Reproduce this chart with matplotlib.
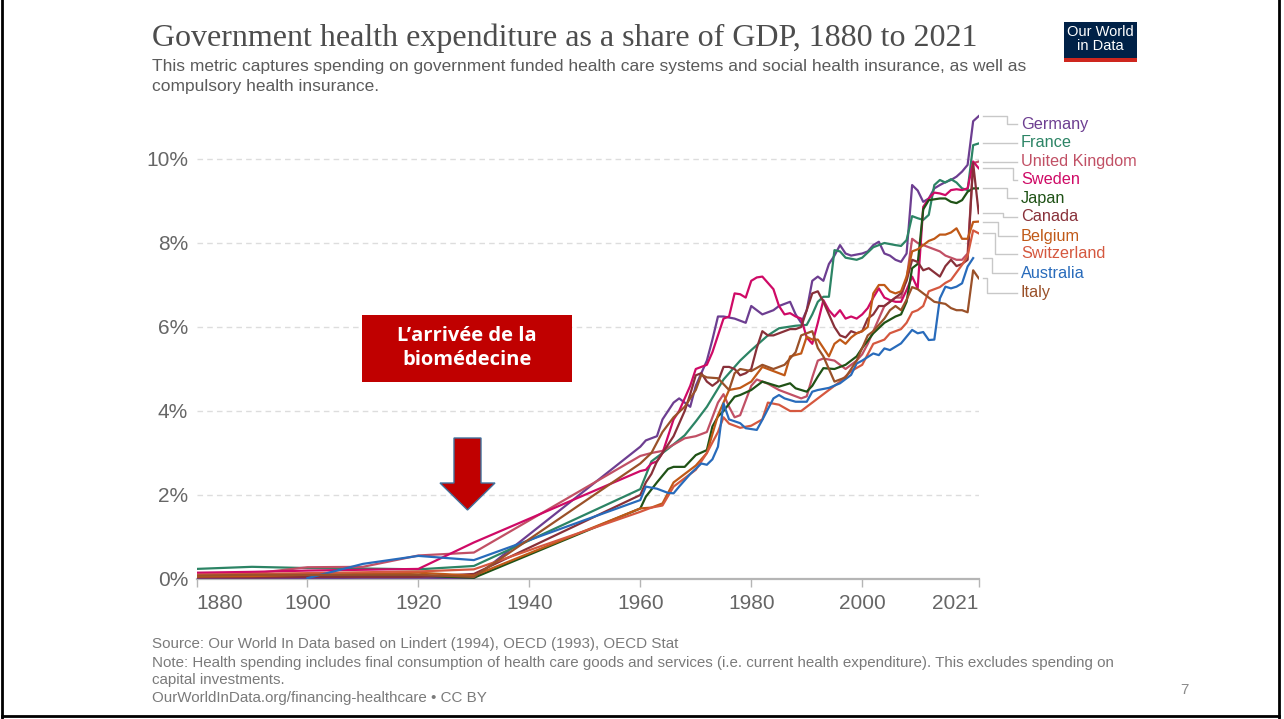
import matplotlib
matplotlib.use("Agg")
import matplotlib.pyplot as plt
from matplotlib.lines import Line2D
from matplotlib.patches import Rectangle, Polygon

plt.rcParams['font.family'] = ['Liberation Sans Narrow', 'Liberation Sans', 'DejaVu Sans']

# ---- data: government health expenditure, % of GDP ----
countries = ["Germany", "France", "United Kingdom", "Sweden", "Japan",
             "Canada", "Belgium", "Switzerland", "Australia", "Italy"]
colors = ["#6D3E91", "#2C8465", "#C15065", "#CF0A66", "#1F5216",
          "#883039", "#C05917", "#D5583F", "#286BBB", "#9A5129"]

early = [1880, 1890, 1900, 1910, 1920, 1930]
annual = list(range(1960, 2022))

de_years = early + [1960, 1961, 1963, 1964, 1966, 1967, 1969, 1970, 1972, 1973, 1974, 1975, 1977, 1979,
                    1980, 1982, 1984, 1985, 1987, 1988, 1989, 1990, 1991, 1992, 1993, 1994, 1995, 1996,
                    1997, 1998, 2000, 2001, 2002, 2003, 2004, 2005, 2006, 2007, 2008, 2009, 2010, 2011,
                    2012, 2013, 2014, 2015, 2016, 2017, 2018, 2019, 2020, 2021]
de_vals = [0.02, 0.02, 0.02, 0.03, 0.03, 0.02,
           3.15, 3.3, 3.4, 3.8, 4.2, 4.3, 4.1, 4.6, 5.2, 5.7, 6.25, 6.25, 6.2, 6.1,
           6.5, 6.3, 6.4, 6.5, 6.6, 6.3, 6.1, 6.4, 7.1, 7.2, 7.1, 7.5, 7.7, 7.95,
           7.75, 7.7, 7.75, 7.8, 7.95, 8.03, 7.75, 7.7, 7.6, 7.55, 7.75, 9.38, 9.25, 8.98,
           9.06, 9.3, 9.38, 9.45, 9.5, 9.58, 9.7, 9.86, 10.9, 11.02]

fr_years = early + [1960, 1962, 1965, 1968, 1970, 1972, 1975, 1978, 1980, 1983, 1985, 1988, 1990, 1991,
                    1992, 1993, 1994, 1995, 1996, 1997, 1999, 2000, 2002, 2003, 2004, 2006, 2007, 2008,
                    2009, 2010, 2011, 2012, 2013, 2014, 2015, 2016, 2017, 2018, 2019, 2020, 2021]
fr_vals = [0.24, 0.29, 0.26, 0.25, 0.23, 0.31,
           2.14, 2.8, 3.1, 3.42, 3.75, 4.1, 4.75, 5.2, 5.45, 5.8, 5.97, 6.03, 6.05, 6.3,
           6.6, 6.72, 6.72, 7.83, 7.8, 7.65, 7.6, 7.65, 7.9, 7.95, 8.0, 7.95, 7.93, 8.07,
           8.64, 8.59, 8.55, 8.67, 9.38, 9.5, 9.44, 9.52, 9.44, 9.3, 9.26, 10.33, 10.37]

uk_years = early + [1960, 1962, 1964, 1966, 1968, 1970, 1972, 1974, 1975, 1976, 1977, 1978, 1980, 1981,
                    1983, 1985, 1987, 1989, 1990, 1991, 1992, 1993, 1995, 1997, 1999, 2000, 2001, 2002,
                    2003, 2004, 2005, 2006, 2007, 2008, 2009, 2010, 2011, 2012, 2013, 2014, 2015, 2016,
                    2017, 2018, 2019, 2020, 2021]
uk_vals = [0.11, 0.13, 0.28, 0.29, 0.56, 0.63,
           2.93, 3.0, 3.05, 3.2, 3.35, 3.4, 3.5, 4.2, 4.4, 4.1, 3.85, 3.9, 4.6, 4.75,
           4.65, 4.5, 4.4, 4.3, 4.35, 4.8, 5.2, 5.25, 5.2, 5.0, 5.2, 5.35, 5.6, 5.9,
           6.2, 6.5, 6.6, 6.7, 6.7, 7.15, 8.1, 8.0, 7.95, 7.9, 7.85, 7.8, 7.7, 7.65,
           7.6, 7.6, 7.75, 9.9, 9.94]

se_years = early + annual
se_vals = [0.15, 0.17, 0.2, 0.22, 0.24, 0.87,
           2.57, 2.6, 2.75, 2.8, 3.0, 3.4, 3.8, 4.0, 4.3, 4.6,
           5.0, 5.05, 5.1, 5.4, 5.8, 6.2, 6.25, 6.8, 6.78, 6.7,
           7.1, 7.18, 7.2, 7.05, 6.9, 6.5, 6.3, 6.33, 6.25, 6.2,
           5.75, 5.6, 6.1, 6.64, 6.4, 6.25, 6.4, 6.2, 6.25, 6.2,
           6.3, 6.45, 6.7, 6.92, 6.7, 6.64, 6.6, 6.6, 6.88, 7.2,
           6.92, 8.86, 9.06, 9.2, 9.18, 9.14, 9.26, 9.28, 9.26, 9.3,
           9.94, 9.78]

jp_years = early + [1960, 1961, 1963, 1965, 1966, 1968, 1970, 1972, 1973, 1974, 1975, 1977, 1978, 1980,
                    1982, 1984, 1985, 1987, 1988, 1990, 1991, 1992, 1993, 1995, 1997, 1999, 2000, 2002,
                    2004, 2006, 2007, 2008, 2009, 2010, 2011, 2012, 2014, 2015, 2016, 2017, 2018, 2019,
                    2020, 2021]
jp_vals = [0.08, 0.08, 0.08, 0.08, 0.08, 0.03,
           1.68, 1.96, 2.3, 2.62, 2.67, 2.67, 2.95, 3.07, 3.63, 3.87, 4.0, 4.34, 4.38, 4.5,
           4.7, 4.62, 4.58, 4.66, 4.54, 4.46, 4.6, 4.82, 5.02, 5.0, 5.1, 5.3, 5.5, 5.85,
           6.1, 6.25, 6.3, 6.6, 7.4, 7.5, 8.8, 9.02, 9.06, 9.06, 8.98, 8.95, 9.02, 9.22,
           9.3, 9.3]

ca_years = early + annual
ca_vals = [0.04, 0.04, 0.05, 0.05, 0.05, 0.12,
           2.0, 2.3, 2.5, 2.8, 3.0, 3.2, 3.4, 3.7, 4.0, 4.4,
           4.85, 4.9, 4.7, 4.6, 4.7, 5.05, 5.05, 5.0, 4.85, 4.9,
           5.0, 5.5, 5.9, 5.8, 5.8, 5.85, 5.9, 5.95, 5.95, 6.0,
           6.4, 6.8, 6.85, 6.6, 6.3, 6.0, 5.8, 5.75, 5.9, 5.85,
           5.9, 6.2, 6.3, 6.5, 6.5, 6.6, 6.7, 6.8, 7.1, 7.6,
           7.55, 7.35, 7.4, 7.3, 7.2, 7.45, 7.6, 7.45, 7.5, 7.6,
           9.9, 8.71]

be_years = early + [1960, 1962, 1964, 1966, 1968, 1970, 1972, 1974, 1975, 1976, 1978, 1980, 1982, 1984,
                    1986, 1987, 1989, 1990, 1991, 1992, 1993, 1994, 1995, 1996, 1997, 1998, 1999, 2000,
                    2001, 2002, 2003, 2004, 2005, 2006, 2007, 2008, 2009, 2010, 2011, 2012, 2013, 2014,
                    2015, 2016, 2017, 2018, 2019, 2020, 2021]
be_vals = [0.06, 0.07, 0.1, 0.12, 0.15, 0.08,
           1.68, 1.7, 1.8, 2.3, 2.5, 2.7, 3.0, 3.9, 4.2, 4.5, 4.55, 4.7, 5.05, 4.95,
           4.85, 5.3, 5.37, 5.77, 5.7, 5.7, 5.5, 5.3, 5.6, 5.7, 5.6, 5.75, 5.85, 5.9,
           6.0, 6.8, 7.0, 7.0, 6.85, 6.8, 6.85, 7.2, 7.8, 7.85, 7.95, 8.05, 8.1, 8.2,
           8.2, 8.25, 8.35, 8.1, 8.1, 8.5, 8.51]

ch_years = early + [1960, 1962, 1964, 1966, 1968, 1970, 1972, 1974, 1975, 1976, 1978, 1980, 1982, 1983,
                    1985, 1987, 1989, 1990, 1992, 1994, 1996, 1998, 2000, 2002, 2004, 2005, 2006, 2007,
                    2008, 2009, 2010, 2011, 2012, 2013, 2014, 2015, 2016, 2017, 2018, 2019, 2020, 2021]
ch_vals = [0.1, 0.12, 0.14, 0.16, 0.18, 0.23,
           1.6, 1.7, 1.75, 2.2, 2.4, 2.6, 3.0, 3.5, 3.85, 3.7, 3.6, 3.65, 3.8, 4.2,
           4.15, 4.0, 4.0, 4.1, 4.3, 4.5, 4.7, 4.95, 5.1, 5.6, 5.7, 5.85, 5.9, 5.95,
           6.1, 6.35, 6.4, 6.5, 6.85, 6.9, 6.95, 7.05, 7.12, 7.3, 7.48, 7.7, 8.3, 8.23]

au_years = [1900, 1910, 1920, 1930,
            1960, 1961, 1963, 1965, 1966, 1967, 1969, 1971, 1972, 1973, 1974, 1975, 1976, 1978,
            1979, 1981, 1982, 1984, 1985, 1986, 1988, 1990, 1991, 1992, 1994, 1996, 1998, 1999,
            2000, 2002, 2003, 2004, 2005, 2007, 2008, 2009, 2010, 2011, 2012, 2013, 2014, 2015,
            2016, 2017, 2018, 2019, 2020]
au_vals = [0.02, 0.36, 0.55, 0.45,
           1.88, 2.2, 2.15, 2.05, 2.04, 2.2, 2.5, 2.75, 2.72, 2.85, 3.15, 4.18, 3.8, 3.71,
           3.59, 3.55, 3.79, 4.3, 4.38, 4.3, 4.22, 4.22, 4.46, 4.5, 4.55, 4.66, 4.86, 5.13,
           5.2, 5.37, 5.33, 5.49, 5.45, 5.61, 5.77, 5.93, 5.85, 5.88, 5.69, 5.7, 6.68, 6.96,
           6.92, 6.96, 7.04, 7.44, 7.64]

it_years = early + [1960, 1962, 1964, 1966, 1968, 1970, 1971, 1972, 1974, 1976, 1977, 1978, 1980, 1982,
                    1984, 1986, 1988, 1989, 1990, 1991, 1992, 1993, 1994, 1995, 1997, 1999, 2000, 2001,
                    2002, 2004, 2005, 2006, 2007, 2008, 2009, 2010, 2012, 2013, 2015, 2016, 2017, 2018,
                    2019, 2020, 2021]
it_vals = [0.08, 0.1, 0.1, 0.1, 0.1, 0.05,
           2.75, 3.0, 3.5, 3.85, 4.1, 4.5, 4.86, 4.8, 4.78, 4.5, 4.9, 5.0, 4.95, 5.1,
           5.0, 5.1, 5.4, 5.8, 5.85, 5.9, 5.5, 5.3, 5.0, 4.7, 4.8, 5.2, 5.5, 5.8,
           5.9, 6.2, 6.4, 6.5, 6.4, 6.65, 6.95, 6.9, 6.7, 6.6, 6.55, 6.45, 6.4, 6.4,
           6.35, 7.35, 7.16]

series_years = [de_years, fr_years, uk_years, se_years, jp_years,
                ca_years, be_years, ch_years, au_years, it_years]
series_vals = [de_vals, fr_vals, uk_vals, se_vals, jp_vals,
               ca_vals, be_vals, ch_vals, au_vals, it_vals]

x_ticks = [1880, 1900, 1920, 1940, 1960, 1980, 2000, 2021]
y_ticks = [0, 2, 4, 6, 8, 10]

# ---- figure ----
W, H = 1284, 719
fig = plt.figure(figsize=(W / 100, H / 100), dpi=100)
fig.patch.set_facecolor("white")


def fx(px):
    return px / W


def fy(py):
    return 1 - py / H


ax = fig.add_axes([fx(196.5), fy(579), (978.7 - 196.5) / W, 11.1 * 42 / H])
ax.set_xlim(1880, 2021)
ax.set_ylim(0, 11.1)

for yrs, vals, col in zip(series_years, series_vals, colors):
    ax.plot(yrs, vals, color=col, lw=1.6, solid_joinstyle="round", zorder=3)

for s in ["top", "right", "left"]:
    ax.spines[s].set_visible(False)
ax.spines["bottom"].set_color("#b5b5b5")
ax.spines["bottom"].set_linewidth(1.6)

ax.set_yticks(y_ticks)
ax.set_yticklabels([f"{v}%" for v in y_ticks])
ax.set_xticks(x_ticks)
ax.set_xticklabels([str(v) for v in x_ticks])
ax.tick_params(axis="y", length=0, pad=6, labelsize=15, labelcolor="#666666")
ax.tick_params(axis="x", length=6, width=1, color="#b5b5b5", pad=5, labelsize=15, labelcolor="#666666")
xl = ax.get_xticklabels()
xl[0].set_ha("left")
xl[-1].set_ha("right")

for v in y_ticks[1:]:
    ax.axhline(v, color="#dddddd", lw=1, dashes=(4, 3), zorder=1)

# ---- titles ----
title = fig.text(fx(152), fy(38), "Government health expenditure as a share of GDP, 1880 to 2021",
                 family=["Liberation Serif", "DejaVu Serif"], fontsize=24, color="#4d4d4d", va="center")
sub1 = fig.text(fx(152), fy(66), "This metric captures spending on government funded health care systems "
                "and social health insurance, as well as", fontsize=13, color="#5b5b5b", va="center")
sub2 = fig.text(fx(152), fy(87), "compulsory health insurance.", fontsize=13, color="#5b5b5b", va="center")

foot1 = fig.text(fx(152), fy(644), "Source: Our World In Data based on Lindert (1994), OECD (1993), OECD Stat",
                 fontsize=11, color="#7a7a7a", va="center")
foot2 = fig.text(fx(152), fy(663), "Note: Health spending includes final consumption of health care goods and "
                 "services (i.e. current health expenditure). This excludes spending on",
                 fontsize=11, color="#7a7a7a", va="center")
foot3 = fig.text(fx(152), fy(680), "capital investments.", fontsize=11, color="#7a7a7a", va="center")
foot4 = fig.text(fx(152), fy(698), "OurWorldInData.org/financing-healthcare • CC BY",
                 fontsize=11, color="#7a7a7a", va="center")

fig.canvas.draw()
r = fig.canvas.get_renderer()


def fit(t, target, others=()):
    w = t.get_window_extent(r).width
    s = t.get_fontsize() * target / w
    t.set_fontsize(s)
    for o in others:
        o.set_fontsize(s)


fit(title, 828)
fit(sub1, 867, [sub2])
fit(foot2, 964, [foot1, foot3, foot4])

fig.text(fx(1184), fy(690), "7", fontsize=11, color="#8a8a8a", va="center", ha="center")

# ---- logo ----
fig.add_artist(Rectangle((fx(1064), fy(62)), 73 / W, 40 / H, transform=fig.transFigure,
                         facecolor="#002147", edgecolor="none"))
fig.add_artist(Rectangle((fx(1064), fy(62)), 73 / W, 4 / H, transform=fig.transFigure,
                         facecolor="#CE261E", edgecolor="none"))
fig.text(fx(1100.5), fy(39), "Our World\nin Data", color="white", fontsize=10.5,
         ha="center", va="center", linespacing=0.95)

# ---- line labels with leader lines ----
label_y = [124, 142.7, 161.7, 180, 198.3, 216.7, 236, 254, 273.3, 292.7]
elbow_x = [1007, 1010, 1013, 1013, 1007, 1003, 998, 995, 992, 987]
for name, col, yrs, vals, ly, ex in zip(countries, colors, series_years, series_vals, label_y, elbow_x):
    disp = ax.transData.transform((yrs[-1], vals[-1]))
    sy = H - disp[1]
    xs = [fx(983), fx(ex), fx(ex), fx(1017)]
    ys = [fy(sy), fy(sy), fy(ly), fy(ly)]
    fig.add_artist(Line2D(xs, ys, transform=fig.transFigure, color="#c8c8c8", lw=1))
    fig.text(fx(1021), fy(ly), name, color=col, fontsize=11.7, va="center",
             family=["Liberation Sans", "DejaVu Sans"])

# ---- annotation box and arrow ----
fig.add_artist(Rectangle((fx(362), fy(382)), 210 / W, 67 / H, transform=fig.transFigure,
                         facecolor="#C00000", edgecolor="none", zorder=5))
fig.text(fx(467), fy(348), "L’arrivée de la\nbiomédecine", color="white", fontsize=14.5,
         fontweight="bold", ha="center", va="center", linespacing=1.3,
         family=["Open Sans", "DejaVu Sans"], zorder=6)
arrow_px = [(454, 438), (481, 438), (481, 483), (495, 483), (467.5, 510),
            (440, 483), (454, 483)]
fig.add_artist(Polygon([(fx(a), fy(b)) for a, b in arrow_px], closed=True, transform=fig.transFigure,
                       facecolor="#C00000", edgecolor="#41719C", lw=1, zorder=5))

# ---- slide frame ----
fig.add_artist(Line2D([fx(2), fx(2)], [0, 1], transform=fig.transFigure, color="black", lw=2))
fig.add_artist(Line2D([fx(1279), fx(1279)], [0, 1], transform=fig.transFigure, color="black", lw=2))
fig.add_artist(Line2D([fx(2), fx(1279)], [fy(716), fy(716)], transform=fig.transFigure, color="black", lw=2))

fig.savefig("out.png", dpi=100)
